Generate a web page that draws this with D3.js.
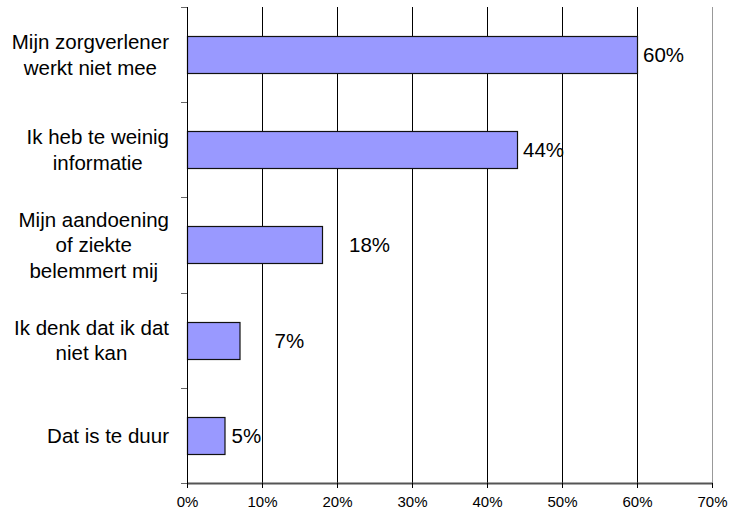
<!DOCTYPE html>
<html>
<head>
<meta charset="utf-8">
<script src="https://cdn.jsdelivr.net/npm/d3@7"></script>
<style>
  body { margin: 0; background: #fff; }
  text { font-family: "Liberation Sans", Arial, sans-serif; fill: #000; }
</style>
</head>
<body>
<svg id="chart" width="739" height="516"></svg>
<script>
// data
var categories = [
  ["Mijn zorgverlener", "werkt niet mee"],
  ["Ik heb te weinig", "informatie"],
  ["Mijn aandoening", "of ziekte", "belemmert mij"],
  ["Ik denk dat ik dat", "niet kan"],
  ["Dat is te duur"]
];
var values = [60, 44, 18, 7, 5];
var xTicks = [0, 10, 20, 30, 40, 50, 60, 70];

// label gaps like the original (Excel placed them unevenly)
var labelGap = [6, 6, 27, 35, 7];

var plotL = 187, plotR = 712, plotT = 7, plotB = 483;
var svg = d3.select("#chart");

var x = d3.scaleLinear().domain([0, 70]).range([plotL, plotR]);
var y = d3.scaleBand().domain(d3.range(values.length)).range([plotT, plotB]).paddingInner(0.61).paddingOuter(0.305);
var yb = d3.scaleBand().domain(d3.range(values.length)).range([plotT, plotB]);

// gridlines
svg.append("g").selectAll("line")
  .data(xTicks.slice(1))
  .enter().append("line")
  .attr("x1", function(d) { return x(d) + 0.5; })
  .attr("x2", function(d) { return x(d) + 0.5; })
  .attr("y1", plotT).attr("y2", plotB)
  .attr("stroke", function(d) { return d == 70 ? "#999" : "#000"; })
  .attr("stroke-width", 1);

// bars
svg.append("g").selectAll("rect")
  .data(values)
  .enter().append("rect")
  .attr("x", x(0) + 0.5)
  .attr("y", function(d, i) { return Math.round(y(i)) + 0.5; })
  .attr("width", function(d) { return x(d) - x(0); })
  .attr("height", Math.round(y.bandwidth()))
  .attr("fill", "#9999FF")
  .attr("stroke", "#111")
  .attr("stroke-width", 1.2);

// value labels
svg.append("g").selectAll("text")
  .data(values)
  .enter().append("text")
  .attr("x", function(d, i) { return x(d) + labelGap[i]; })
  .attr("y", function(d, i) { return y(i) + y.bandwidth() / 2; })
  .attr("dy", "0.36em")
  .attr("font-size", "20.5px")
  .text(function(d) { return d + "%"; });

// x axis
var xAxis = svg.append("g")
  .attr("transform", "translate(0," + plotB + ")")
  .call(d3.axisBottom(x).tickValues(xTicks).tickSize(5).tickSizeOuter(0).tickFormat(function(d) { return d + "%"; }));
xAxis.select(".domain").attr("stroke", "#555").attr("stroke-width", 2);
xAxis.selectAll(".tick line").attr("stroke", "#000");
xAxis.selectAll(".tick text").attr("font-size", "15px").attr("font-family", "Liberation Sans, Arial, sans-serif").attr("y", 13).attr("dy", "0.71em");

// y axis line and ticks
svg.append("line")
  .attr("x1", plotL + 0.5).attr("x2", plotL + 0.5)
  .attr("y1", plotT).attr("y2", plotB)
  .attr("stroke", "#000");
var yTickPos = d3.range(values.length + 1).map(function(i) { return i < values.length ? yb(i) : plotB; });
svg.append("g").selectAll("line")
  .data(yTickPos)
  .enter().append("line")
  .attr("x1", plotL - 6).attr("x2", plotL)
  .attr("y1", function(d) { return Math.round(d) + 0.5; })
  .attr("y2", function(d) { return Math.round(d) + 0.5; })
  .attr("stroke", "#666");

// category labels, each block centred and right edge at ~169
var lineH = 25.5;
categories.forEach(function(lines, i) {
  var cy = yb(i) + yb.bandwidth() / 2;
  var t = svg.append("text").attr("font-size", "20.5px").attr("text-anchor", "middle");
  lines.forEach(function(s, k) {
    t.append("tspan")
      .attr("x", 0)
      .attr("y", cy + (k - (lines.length - 1) / 2) * lineH)
      .attr("dy", "0.36em")
      .text(s);
  });
  var w = d3.max(t.selectAll("tspan").nodes(), function(n) { return n.getComputedTextLength(); });
  t.selectAll("tspan").attr("x", 169 - w / 2);
});
</script>
</body>
</html>
